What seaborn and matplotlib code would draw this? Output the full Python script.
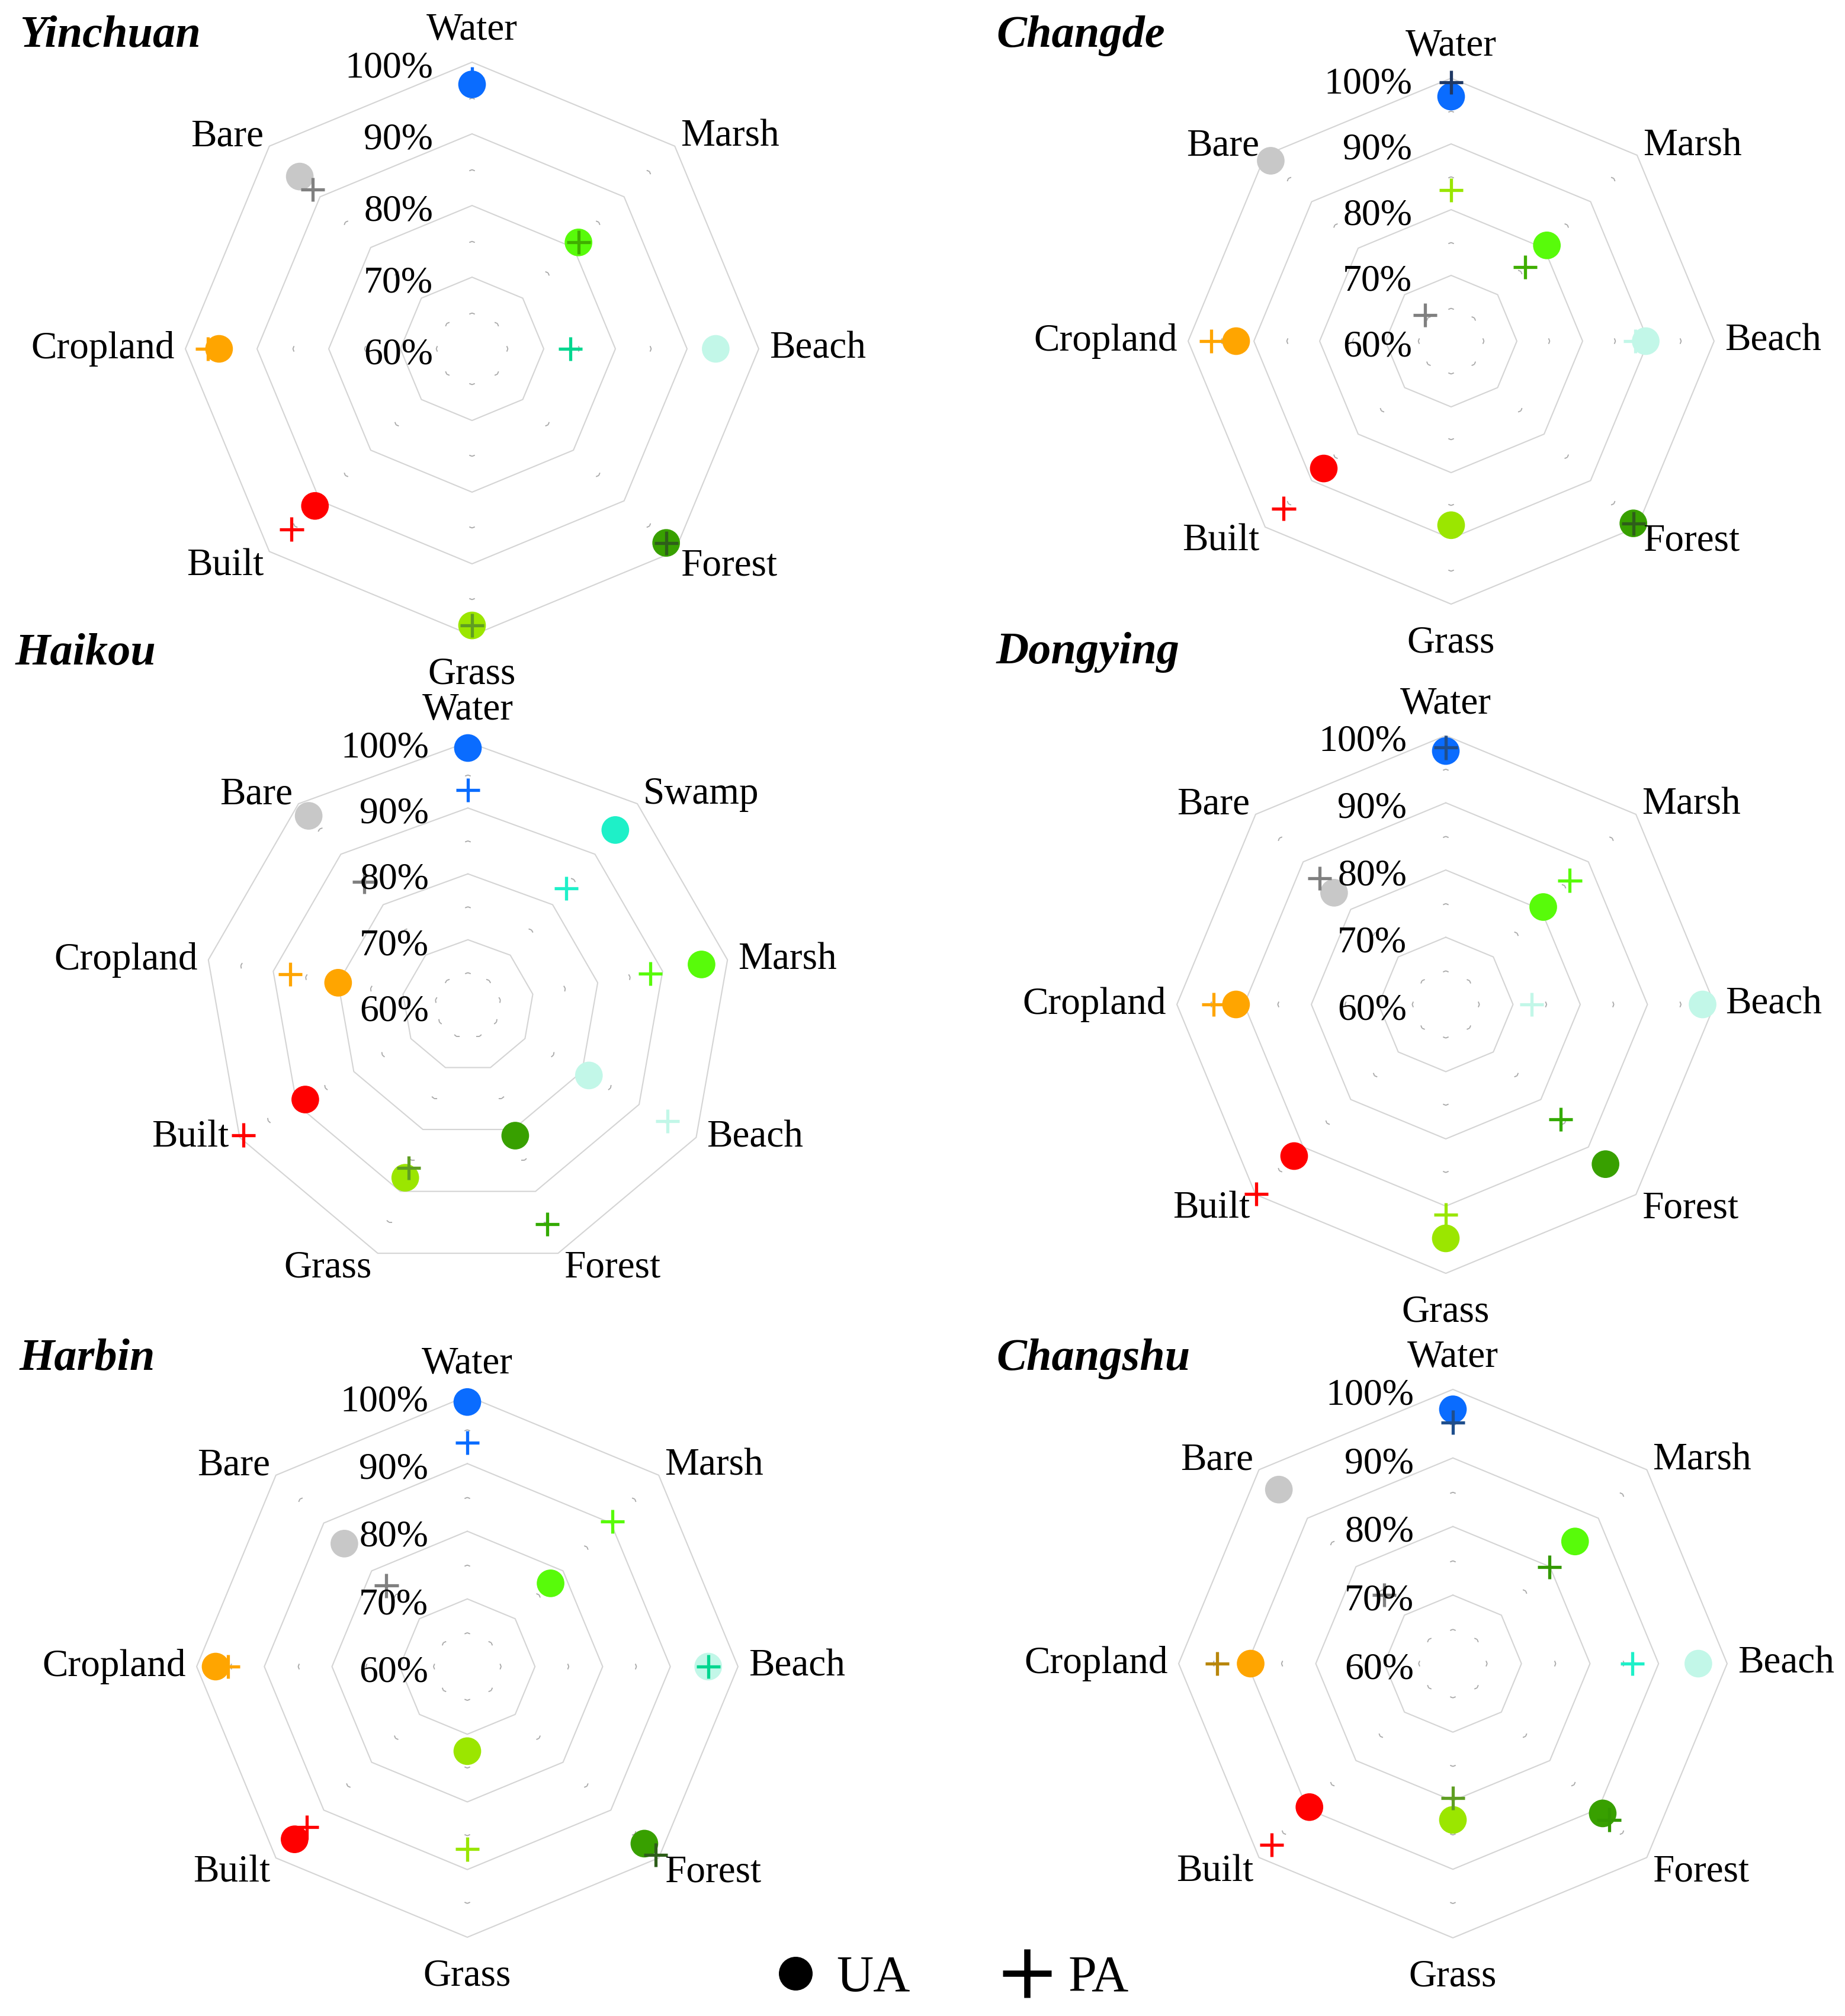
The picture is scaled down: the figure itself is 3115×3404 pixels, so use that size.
import numpy as np
import pandas as pd
import seaborn as sns
import matplotlib.pyplot as plt
from matplotlib.lines import Line2D

# category names (clockwise from the top)
cats8 = ['Water', 'Marsh', 'Beach', 'Forest', 'Grass', 'Built', 'Cropland', 'Bare']
cats9 = ['Water', 'Swamp', 'Marsh', 'Beach', 'Forest', 'Grass', 'Built', 'Cropland', 'Bare']

# colours of the UA dots by class
ua_colors = {'Water': '#0a6cff', 'Swamp': '#1ef0c8', 'Marsh': '#58fb0a',
             'Beach': '#c2f7e8', 'Forest': '#38a000', 'Grass': '#9be600',
             'Built': '#ff0000', 'Cropland': '#ffa500', 'Bare': '#c8c8c8'}

# accuracy values in %
yinchuan_ua = [96.9, 81.0, 94.0, 98.3, 98.6, 91.0, 95.3, 94.0]
yinchuan_pa = [97.7, 81.0, 73.7, 98.3, 98.6, 95.6, 96.9, 91.4]
yinchuan_pa_col = ['#0a6cff', '#3fae00', '#00d68f', '#2e5e1a', '#5f9e22', '#ff0000', '#ffa500', '#808080']

changde_ua = [97.2, 80.6, 89.6, 99.2, 88.0, 87.4, 92.7, 98.8]
changde_pa = [99.4, 75.9, 88.0, 99.2, 37.0, 96.0, 96.5, 65.6]
changde_pa_col = ['#1f3864', '#3fae00', '#c2f7e8', '#2e5e1a', '#99e600', '#ff0000', '#ffa500', '#808080']

haikou_ua = [99.1, 94.8, 96.0, 81.2, 81.0, 87.8, 88.5, 80.0, 97.6]
haikou_pa = [92.7, 83.2, 88.1, 95.0, 95.3, 86.2, 99.3, 87.4, 84.5]
haikou_pa_col = ['#0a6cff', '#1ef0c8', '#58fb0a', '#c2f7e8', '#33aa00', '#5f9e22', '#ff0000', '#ffa500', '#808080']

dongying_ua = [97.7, 80.5, 98.2, 93.6, 94.8, 91.9, 91.2, 83.5]
dongying_pa = [98.2, 86.1, 72.8, 84.2, 91.3, 99.9, 94.5, 86.5]
dongying_pa_col = ['#1f4e8c', '#58fb0a', '#c2f7e8', '#33aa00', '#99e600', '#ff0000', '#ffa500', '#808080']

harbin_ua = [99.1, 77.4, 95.6, 97.0, 72.5, 96.1, 97.2, 85.7]
harbin_pa = [93.1, 90.3, 95.6, 99.4, 87.0, 93.6, 95.4, 76.9]
harbin_pa_col = ['#0a6cff', '#58fb0a', '#00d68f', '#2e5e1a', '#99e600', '#ff0000', '#ffa500', '#808080']

changshu_ua = [97.1, 85.2, 95.8, 90.9, 82.8, 89.6, 89.5, 95.9]
changshu_pa = [95.2, 79.9, 86.2, 92.2, 79.6, 97.4, 94.4, 74.2]
changshu_pa_col = ['#1f4e8c', '#339900', '#1ef0c8', '#339900', '#5f9e22', '#ff0000', '#b8860b', '#808080']

rings = [60, 70, 80, 90, 100]
minor_rings = [65, 75, 85, 95]

W, H, DPI = 3115, 3404, 100

sns.set_theme(style='white')
plt.rcParams['font.family'] = ['Liberation Serif', 'DejaVu Serif']
plt.rcParams['text.color'] = 'black'

fig = plt.figure(figsize=(W / DPI, H / DPI), dpi=DPI)

# name, classes, UA, PA, PA colours, centre (px), radius (px), title position (px)
panels = [
    ('Yinchuan', cats8, yinchuan_ua, yinchuan_pa, yinchuan_pa_col, (797, 589), 484, (33, 79)),
    ('Changde', cats8, changde_ua, changde_pa, changde_pa_col, (2450, 576), 444, (1682, 79)),
    ('Haikou', cats9, haikou_ua, haikou_pa, haikou_pa_col, (790, 1698), 445, (26, 1122)),
    ('Dongying', cats8, dongying_ua, dongying_pa, dongying_pa_col, (2441, 1696), 454, (1682, 1120)),
    ('Harbin', cats8, harbin_ua, harbin_pa, harbin_pa_col, (789, 2814), 457, (33, 2313)),
    ('Changshu', cats8, changshu_ua, changshu_pa, changshu_pa_col, (2453, 2809), 463, (1682, 2313)),
]

for name, cats, ua, pa, pa_col, (cx, cy), R, (tx, ty) in panels:
    ax = fig.add_axes([(cx - R) / W, 1 - (cy + R) / H, 2 * R / W, 2 * R / H], projection='polar')
    ax.set_theta_zero_location('N')
    ax.set_theta_direction(-1)
    n = len(cats)
    theta = np.arange(n) * 2 * np.pi / n
    th_c = np.append(theta, 2 * np.pi)

    # polygon grid
    for lvl in rings[1:]:
        ax.plot(th_c, [lvl] * (n + 1), color='#d4d4d4', lw=1.5, zorder=1, clip_on=False)
    for lvl in minor_rings:
        for i in range(n):
            ax.plot([th_c[i], th_c[i + 1]], [lvl, lvl], color='#a8a8a8', lw=1.3,
                    dashes=(2.8, 1000), zorder=1, clip_on=False)
            ax.plot([th_c[i + 1], th_c[i]], [lvl, lvl], color='#a8a8a8', lw=1.3,
                    dashes=(2.8, 1000), zorder=1, clip_on=False)

    # UA dots
    df_ua = pd.DataFrame({'theta': theta, 'r': ua, 'cls': cats})
    sns.scatterplot(data=df_ua, x='theta', y='r', hue='cls',
                    palette={c: ua_colors[c] for c in cats}, marker='o', s=1130,
                    linewidth=0, legend=False, ax=ax, clip_on=False, zorder=4)

    # PA crosses; values below the 60% origin land on the opposite side
    pa = np.array(pa)
    below = pa < rings[0]
    df_pa = pd.DataFrame({'theta': np.where(below, theta + np.pi, theta),
                          'r': np.where(below, 2 * rings[0] - pa, pa), 'cls': cats})
    sns.scatterplot(data=df_pa, x='theta', y='r', hue='cls',
                    palette=dict(zip(cats, pa_col)), marker='+', s=840,
                    linewidth=3.8, legend=False, ax=ax, clip_on=False, zorder=5)

    ax.set_ylim(rings[0], rings[-1])
    ax.grid(False)
    ax.set_xticks([])
    ax.set_yticks([])
    ax.set_xlabel('')
    ax.set_ylabel('')
    ax.spines['polar'].set_visible(False)
    ax.set_facecolor('none')

    # radial labels
    for lvl in rings:
        ax.annotate(f'{lvl}%', xy=(0, lvl), xytext=(-47.5, -7.5), textcoords='offset points',
                    ha='right', va='center', fontsize=46, color='black', zorder=10,
                    annotation_clip=False)

    # class labels
    for t, c in zip(theta, cats):
        s, co = np.sin(t), np.cos(t)
        sg = 0 if abs(s) < 0.05 else np.sign(s)
        ha = {1: 'left', -1: 'right', 0: 'center'}[int(sg)]
        if co > 0.95:
            off, va = (0, 27), 'baseline'
        elif co < -0.95:
            off, va = (0, -26), 'top'
        elif co > 0.6:
            off, va = (7 * sg, 0), 'baseline'
        elif co < -0.6:
            off, va = (7 * sg, 4), 'top'
        else:
            off, va = (13 * sg, 0), 'center'
        ax.annotate(c, xy=(t, rings[-1]), xytext=off, textcoords='offset points',
                    ha=ha, va=va, fontsize=47, color='black', zorder=10, annotation_clip=False)

    fig.text(tx / W, 1 - ty / H, name, fontsize=55, fontweight='bold', fontstyle='italic',
             color='black', ha='left', va='baseline')

handles = [Line2D([], [], ls='none', marker='o', color='black', markersize=40),
           Line2D([], [], ls='none', marker='+', color='black', markersize=59, mew=7.6)]
fig.legend(handles, ['UA', 'PA'], loc='center', bbox_to_anchor=(0.5145, 0.0185), ncol=2,
           frameon=False, fontsize=62, handlelength=1.0, handletextpad=0.3,
           columnspacing=1.8, borderpad=0, labelcolor='black')

fig.savefig('out.png', dpi=DPI, facecolor='white')
